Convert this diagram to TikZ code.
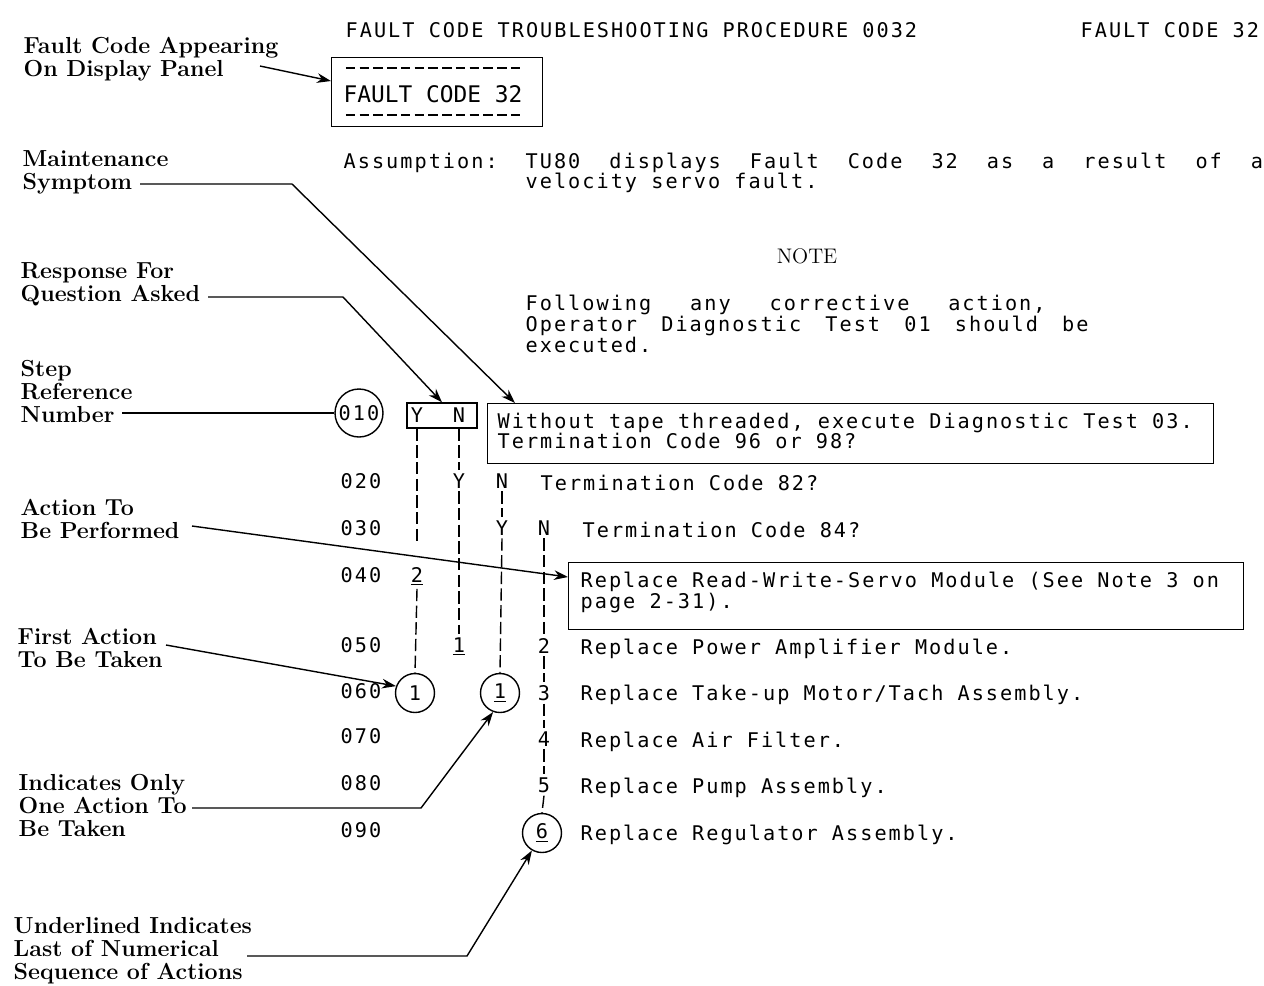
\documentclass[tikz,border=0pt]{standalone}
\usepackage{fontspec}
\usetikzlibrary{arrows.meta}
\newfontfamily\typefont[LetterSpace=10]{DejaVu Sans Mono}
\newfontfamily\panelfont{DejaVu Sans Mono}
\newcommand\dashcell{\makebox[7.83pt]{\rule[3.8pt]{5.4pt}{1.1pt}}}
\newcommand\dashrow{\dashcell\dashcell\dashcell\dashcell\dashcell\dashcell\dashcell\dashcell\dashcell\dashcell\dashcell\dashcell\dashcell}

\begin{document}
\begin{tikzpicture}[x=0.02cm, y=-0.02cm, line width=0.8pt,
	text node/.style={font=\typefont\fontsize{11.5}{11.4}\selectfont, inner sep=0pt, anchor=base west},
	mark node/.style={font=\typefont\fontsize{11.5}{11.4}\selectfont, inner sep=1.5pt, anchor=base},
	ring node/.style={circle, draw, minimum size=0.78cm, inner sep=0pt, font=\typefont\fontsize{11.5}{11.4}\selectfont},
	label node/.style={font=\bfseries\fontsize{13.2}{13.1}\selectfont, align=left, inner sep=0pt, anchor=north west},
	box node/.style={draw, anchor=north west, inner sep=0pt},
	flow/.style={dash pattern=on 7pt off 2.5pt},
	pointer/.style={-{Stealth[length=8pt,width=5.5pt]}}]

	\useasboundingbox (0,0) rectangle (1264,985);

	% heading
	\node[text node] (title) at (345,37) {FAULT CODE TROUBLESHOOTING PROCEDURE 0032};
	\node[text node] (corner) at (1080,37) {FAULT CODE 32};

	% display panel
	\node[box node, minimum width=4.22cm, minimum height=1.38cm] (panel) at (331,57) {};
	\node[text node, font=\panelfont\fontsize{13}{13}\selectfont] (panel top) at (343,76) {\dashrow};
	\node[text node, font=\panelfont\fontsize{13}{13}\selectfont] (panel code) at (343,102) {FAULT CODE 32};
	\node[text node, font=\panelfont\fontsize{13}{13}\selectfont] (panel bottom) at (343,123) {\dashrow};

	% assumption and note
	\node[text node] (assume) at (343,168) {Assumption:};
	\node[text node] (assume1) at (525,168) {\makebox[14.75cm][s]{TU80\hfill displays\hfill Fault\hfill Code\hfill 32\hfill as\hfill a\hfill result\hfill of\hfill a}};
	\node[text node] (assume2) at (525,188) {velocity servo fault.};
	\node[anchor=base, inner sep=0pt, font=\fontsize{12}{13}\selectfont] (note) at (807,263) {NOTE};
	\node[text node] (note1) at (525,310) {\makebox[10.4cm][s]{Following\hfill any\hfill corrective\hfill action,}};
	\node[text node] (note2) at (525,331) {\makebox[11.26cm][s]{Operator\hfill Diagnostic\hfill Test\hfill 01\hfill should\hfill be}};
	\node[text node] (note3) at (525,352) {executed.};

	% step 010
	\node[ring node, minimum size=0.96cm] (s010) at (359,413) {010};
	\node[draw, minimum width=1.4cm, minimum height=0.5cm, inner sep=0pt] (yn) at (442,415.5) {};
	\node[mark node] (y010) at (417,422) {Y};
	\node[mark node] (n010) at (459,422) {N};
	\node[box node, minimum width=14.52cm, minimum height=1.2cm] (q010) at (487,403) {};
	\node[text node] (q010 a) at (497,428) {Without tape threaded, execute Diagnostic Test 03.};
	\node[text node] (q010 b) at (497,448) {Termination Code 96 or 98?};

	% steps 020 to 090
	\node[text node] (s020) at (340,488) {020};
	\node[mark node] (y020) at (459,488) {Y};
	\node[mark node] (n020) at (502,488) {N};
	\node[text node] (q020) at (540,490) {Termination Code 82?};
	\node[text node] (s030) at (340,535) {030};
	\node[mark node] (y030) at (502,535) {Y};
	\node[mark node] (n030) at (544,535) {N};
	\node[text node] (q030) at (582,537) {Termination Code 84?};
	\node[text node] (s040) at (340,582) {040};
	\node[mark node] (a040) at (417,582) {\underline{2}};
	\node[box node, minimum width=13.5cm, minimum height=1.34cm] (r040) at (568,562) {};
	\node[text node] (r040 a) at (580,587) {Replace Read-Write-Servo Module (See Note 3 on};
	\node[text node] (r040 b) at (580,608) {page 2-31).};
	\node[text node] (s050) at (340,652) {050};
	\node[mark node] (a050) at (459,652) {\underline{1}};
	\node[mark node] (b050) at (544,653) {2};
	\node[text node] (r050) at (580,654) {Replace Power Amplifier Module.};
	\node[text node] (s060) at (340,698) {060};
	\node[ring node] (a060) at (415,693) {1};
	\node[ring node] (b060) at (500,693) {\underline{1}};
	\node[mark node] (c060) at (544,700) {3};
	\node[text node] (r060) at (580,700) {Replace Take-up Motor/Tach Assembly.};
	\node[text node] (s070) at (340,743) {070};
	\node[mark node] (c070) at (544,746) {4};
	\node[text node] (r070) at (580,747) {Replace Air Filter.};
	\node[text node] (s080) at (340,790) {080};
	\node[mark node] (c080) at (544,792) {5};
	\node[text node] (r080) at (580,793) {Replace Pump Assembly.};
	\node[text node] (s090) at (340,837) {090};
	\node[ring node] (c090) at (542,833) {\underline{6}};
	\node[text node] (r090) at (580,840) {Replace Regulator Assembly.};

	% yes/no paths
	\path[flow]
	(yn.south -| y010) edge[shorten >=0.4cm] (a040.north)
	(a040.south) edge (a060.north)
	(yn.south -| n010) edge (y020.north)
	(y020.south) edge (a050.north)
	(n020.south) edge (y030.north)
	(y030.south) edge (b060.north)
	(n030.south) edge (b050.north)
	(b050.south) edge (c060.north)
	(c060.south) edge (c070.north)
	(c070.south) edge (c080.north)
	(c080.south) edge (c090.north);

	% labels and pointers
	\node[label node, font=\bfseries\fontsize{13.2}{11.4}\selectfont] (panel label) at (23,36.5) {Fault Code Appearing\\On Display Panel};
	\coordinate (panel end) at (260,66);
	\draw[pointer] (panel end) -- ([yshift=-0.48cm]panel.north west);

	\node[label node] (symptom label) at (22,150) {Maintenance\\Symptom};
	\coordinate (symptom end) at (140,184);
	\coordinate (symptom bend) at (292,184);
	\draw[pointer] (symptom end) -- (symptom bend) -- ([xshift=0.56cm]q010.north west);

	\node[label node] (response label) at (20,262) {Response For\\Question Asked};
	\coordinate (response end) at (208,297);
	\coordinate (response bend) at (343,297);
	\draw[pointer] (response end) -- (response bend) -- (yn.north);

	\node[label node] (step label) at (20,360) {Step\\Reference\\Number};
	\coordinate (step end) at (122,413);
	\draw (step end) -- (s010.west);

	\node[label node] (action label) at (20,498.5) {Action To\\Be Performed};
	\coordinate (action end) at (192,526);
	\draw[pointer] (action end) -- ([yshift=-0.3cm]r040.north west);

	\node[label node] (first label) at (17,627.5) {First Action\\To Be Taken};
	\coordinate (first end) at (166,645);
	\draw[pointer] (first end) -- (a060.160);

	\node[label node] (only label) at (18,773.5) {Indicates Only\\One Action To\\Be Taken};
	\coordinate (only end) at (192,808);
	\coordinate (only bend) at (421,808);
	\draw[pointer] (only end) -- (only bend) -- (b060.250);

	\node[label node] (last label) at (13,916.5) {Underlined Indicates\\Last of Numerical\\Sequence of Actions};
	\coordinate (last end) at (247,956);
	\coordinate (last bend) at (467,956);
	\draw[pointer] (last end) -- (last bend) -- (c090.240);
\end{tikzpicture}
\end{document}
